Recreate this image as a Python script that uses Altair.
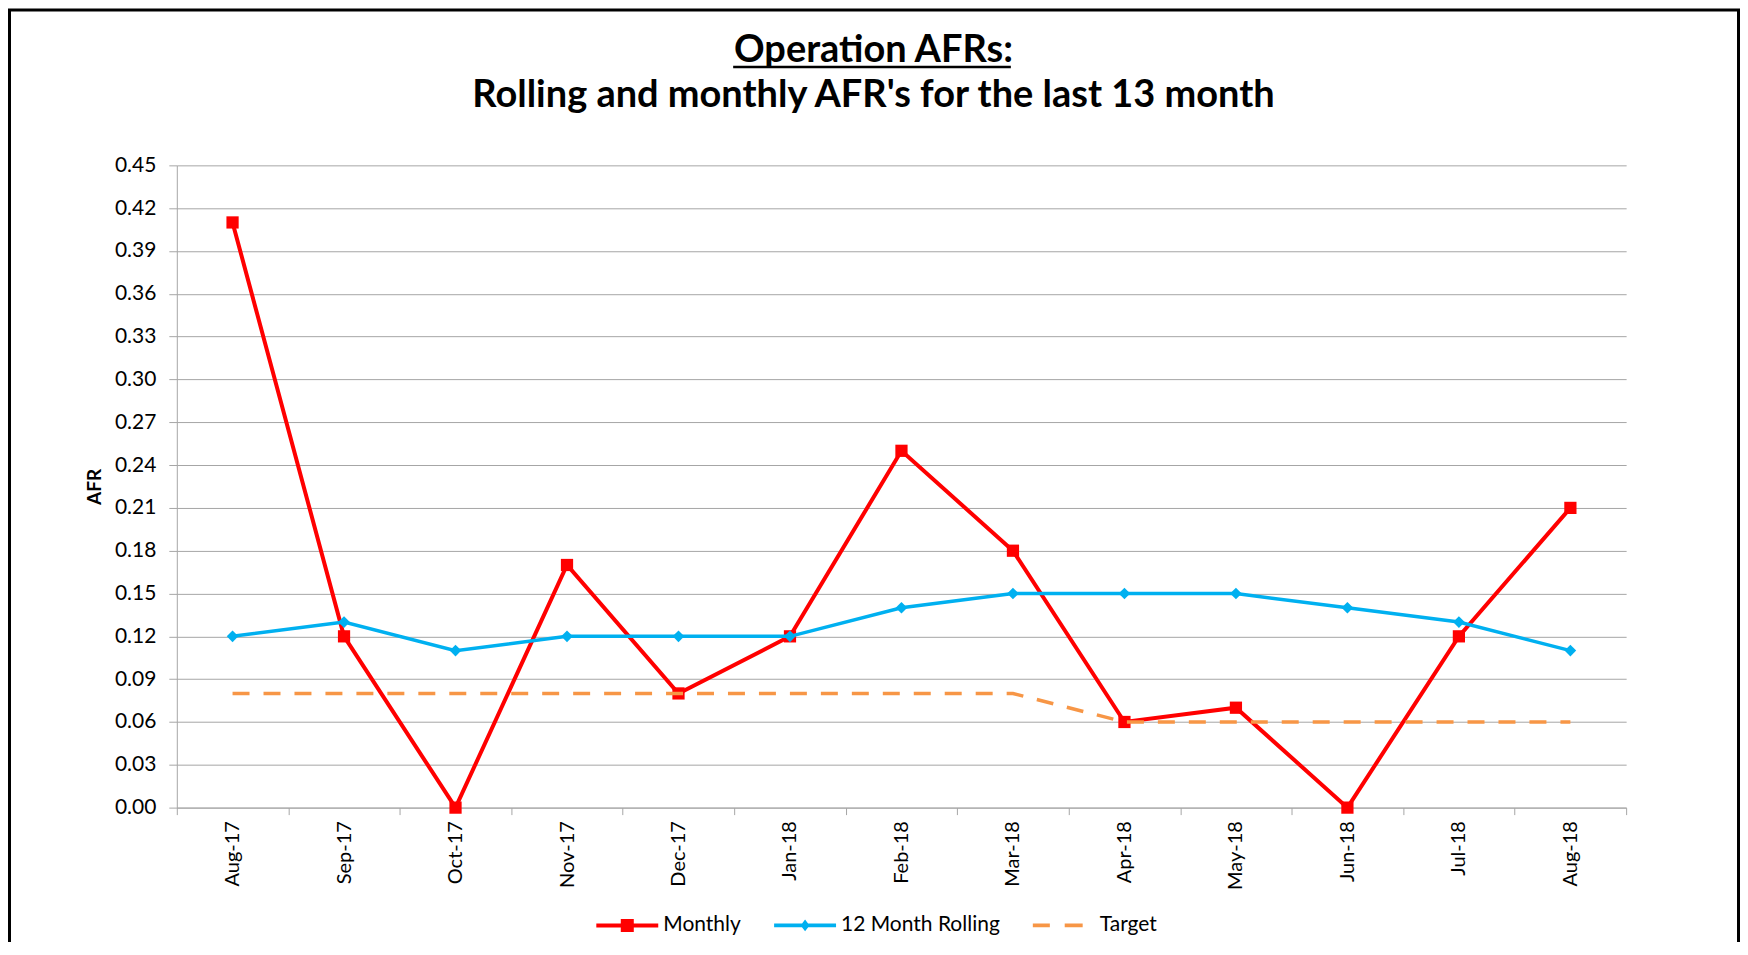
import altair as alt
import pandas as pd

months = ["Aug-17", "Sep-17", "Oct-17", "Nov-17", "Dec-17", "Jan-18", "Feb-18",
          "Mar-18", "Apr-18", "May-18", "Jun-18", "Jul-18", "Aug-18"]
monthly = [0.41, 0.12, 0.00, 0.17, 0.08, 0.12, 0.25, 0.18, 0.06, 0.07, 0.00, 0.12, 0.21]
rolling = [0.12, 0.13, 0.11, 0.12, 0.12, 0.12, 0.14, 0.15, 0.15, 0.15, 0.14, 0.13, 0.11]
target = [0.08, 0.08, 0.08, 0.08, 0.08, 0.08, 0.08, 0.08, 0.06, 0.06, 0.06, 0.06, 0.06]
series_names = ["Monthly", "12 Month Rolling", "Target"]
series_colors = ["#ff0000", "#00b0f0", "#f79646"]
y_ticks = [0.00, 0.03, 0.06, 0.09, 0.12, 0.15, 0.18, 0.21, 0.24, 0.27, 0.30, 0.33, 0.36, 0.39, 0.42, 0.45]

FONT = "Lato"
GRID = "#a6a6a6"

df = pd.DataFrame({"month": months, "Monthly": monthly, "Rolling": rolling, "Target": target})
legend_df = pd.DataFrame({"series": series_names, "v": [0, 0, 0]})

W, H = 1451, 643

x_enc = alt.X(
    "month:N",
    sort=months,
    bandPosition=0.5,
    scale=alt.Scale(type="band", paddingInner=0, paddingOuter=0),
    axis=alt.Axis(
        title=None, labelAngle=-90, labelFont=FONT, labelFontSize=20, labelColor="black",
        labelPadding=6, tickBand="extent", tickSize=7, tickColor=GRID, domainColor=GRID,
        grid=False,
    ),
)

y_axis = alt.Axis(
    title="AFR", titleFont=FONT, titleFontSize=19, titleFontWeight="bold",
    titleColor="black", titlePadding=10, values=y_ticks, format=".2f",
    labelFont=FONT, labelFontSize=21, labelColor="black", labelPadding=13,
    tickSize=8, tickColor=GRID, domainColor=GRID, grid=True, gridColor=GRID,
)


def y_enc(field):
    return alt.Y(f"{field}:Q", scale=alt.Scale(domain=[0, 0.45], nice=False, zero=True), axis=y_axis)


base = alt.Chart(df)

monthly_line = base.mark_line(color=series_colors[0], strokeWidth=4).encode(x=x_enc, y=y_enc("Monthly"))
monthly_pts = base.mark_point(shape="square", filled=True, size=150, color=series_colors[0], opacity=1).encode(
    x=x_enc, y=y_enc("Monthly"))
rolling_line = base.mark_line(color=series_colors[1], strokeWidth=3.5).encode(x=x_enc, y=y_enc("Rolling"))
rolling_pts = base.mark_point(shape="diamond", filled=True, size=135, color=series_colors[1], opacity=1).encode(
    x=x_enc, y=y_enc("Rolling"))
target_line = base.mark_line(color=series_colors[2], strokeWidth=3.5, strokeDash=[17, 14]).encode(
    x=x_enc, y=y_enc("Target"))

legend_shapes = [
    "M-1,-0.065H1V0.065H-1Z M-0.21,-0.21H0.21V0.21H-0.21Z",
    "M-1,-0.06H1V0.06H-1Z M0,-0.19L0.145,0L0,0.19L-0.145,0Z",
    "M-1,-0.06H-0.45V0.06H-1Z M0.03,-0.06H0.61V0.06H0.03Z",
]
leg = alt.Legend(
    title=None, orient="none", legendX=420, legendY=730, direction="horizontal",
    symbolSize=3844, symbolStrokeWidth=0, labelFont=FONT, labelFontSize=21,
    labelColor="black", labelOffset=5, columnPadding=33,
)
legend_layer = alt.Chart(legend_df).transform_filter("datum.v > 1").mark_point(
    filled=True, opacity=1).encode(
    color=alt.Color("series:N", scale=alt.Scale(domain=series_names, range=series_colors), legend=leg),
    shape=alt.Shape("series:N", scale=alt.Scale(domain=series_names, range=legend_shapes), legend=leg),
)

frame_df = pd.DataFrame({"k": [1]})
border = alt.Chart(frame_df).mark_rect(filled=False, stroke="black", strokeWidth=3).encode(
    x=alt.value(-167.5), x2=alt.value(1563.5), y=alt.value(-155.5), y2=alt.value(800))
underline = alt.Chart(frame_df).mark_rule(color="black", strokeWidth=2.5).encode(
    x=alt.value(557), x2=alt.value(835), y=alt.value(-98.5))

chart = alt.layer(
    border, monthly_line, monthly_pts, rolling_line, rolling_pts, target_line, legend_layer, underline
).properties(
    width=W, height=H,
    background="white",
    title=alt.TitleParams(
        text=["Operation AFRs:", "Rolling and monthly AFR's for the last 13 month"],
        font=FONT, fontSize=38, fontWeight="bold", color="black", anchor="middle",
        baseline="top", dx=-28, dy=106.5, offset=0, lineHeight=45,
    ),
    autosize=alt.AutoSizeParams(type="none"),
    padding={"left": 169, "top": 157, "right": 114, "bottom": 134},
).configure_view(stroke=None)

chart.save("out.html", embed_options={"renderer": "svg", "actions": False})
